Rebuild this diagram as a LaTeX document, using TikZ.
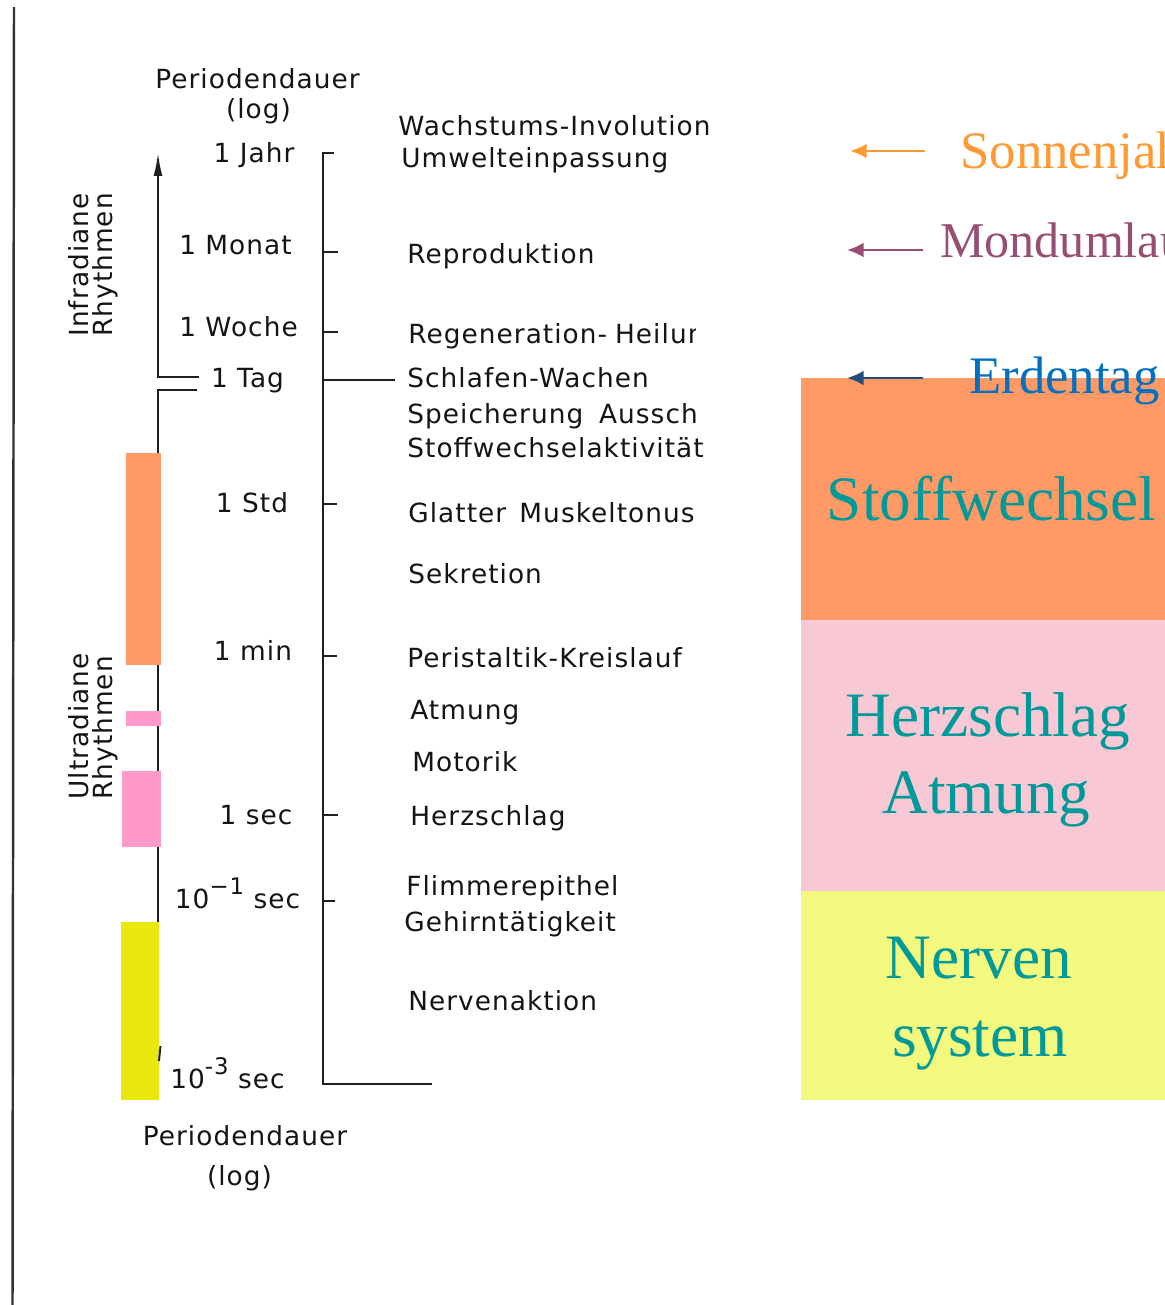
\documentclass[tikz,border=0pt]{standalone}
\usepackage{fontspec}
\setmainfont{DejaVu Sans}
\newfontfamily\lab[LetterSpace=4]{DejaVu Sans}
\newfontfamily\ser{Liberation Serif}
\usetikzlibrary{arrows.meta}
\definecolor{barorange}{RGB}{255,153,102}
\definecolor{barpink}{RGB}{255,153,204}
\definecolor{baryellow}{RGB}{232,232,14}
\definecolor{boxpink}{RGB}{248,200,212}
\definecolor{boxyellow}{RGB}{243,248,126}
\definecolor{tealtext}{RGB}{0,153,153}
\definecolor{sonnen}{RGB}{255,153,51}
\definecolor{mond}{RGB}{152,77,115}
\definecolor{erdtext}{RGB}{0,112,192}
\definecolor{erdarrow}{RGB}{31,78,121}
\newcommand{\supx}[1]{\raisebox{0.5em}{\fontsize{13}{13}\selectfont #1}}
\begin{document}
\begin{tikzpicture}[x=0.02cm,y=-0.02cm,
  lbl/.style={font=\lab\fontsize{15}{17}\selectfont, inner sep=0, text=black!92},
  rl/.style={lbl, anchor=base west},
  al/.style={lbl, anchor=base},
  vl/.style={lbl, anchor=base west, rotate=90},
  big/.style={font=\ser\fontsize{36}{40}\selectfont, inner sep=0, text=tealtext, anchor=base},
  ink/.style={line width=1.1pt, draw=black!88},
  colarrow/.style={line width=1.6pt, -{Latex[length=9.5pt,width=8.5pt]}}]
\clip (0,0) rectangle (1165,1305);
\fill[white] (0,0) rectangle (1165,1305);
% left frame line
\coordinate (ftop) at (14,7);
\coordinate (fbot) at (12.5,1310);
\draw[line width=1.4pt, draw=black!80] (ftop) -- (fbot);
% main axis
\coordinate (atip) at (158,153);
\coordinate (atag) at (158,377);
\coordinate (atagr) at (199,377);
\coordinate (btagr) at (197,390);
\coordinate (btag) at (158,390);
\coordinate (bend) at (158,1060);
\draw[ink, -{Latex[length=13pt,width=5pt]}] (atagr) -- (atag) -- (atip);
\draw[ink] (btagr) -- (btag) -- (bend);
% coloured bars
\fill[barorange] (126,453) rectangle (161,665);
\fill[barpink] (126,711) rectangle (161,726);
\fill[barpink] (122,771) rectangle (161,847);
\fill[baryellow] (121,922) rectangle (158.5,1100);
\draw[ink] (160.5,1046) -- (159,1061);
% bracket
\coordinate (ktop) at (323,153);
\coordinate (kbot) at (323,1084);
\draw[ink] (334,153) -- (ktop) -- (kbot) -- (432,1084);
\foreach \yy/\ee in {252/338,332/338,380/395,504/337,656/337,815/338,901/335}
  \draw[ink] (323,\yy) -- (\ee,\yy);
% axis labels
\node[al] (pdtop) at (257.5,88) {Periodendauer};
\node[al] (logtop) at (258.5,118) {(log)};
\node[al] (jahr) at (254,162) {1 Jahr};
\node[al] (monat) at (235.5,254) {1 Monat};
\node[al] (woche) at (238.5,336) {1 Woche};
\node[al] (tag) at (247.5,387) {1 Tag};
\node[al] (std) at (252,512) {1 Std};
\node[al] (min) at (253,660) {1 min};
\node[al] (sec) at (256,824) {1 sec};
\node[al] (dsec) at (237.5,908) {10\supx{−1} sec};
\node[al] (msec) at (227.5,1088) {10\supx{-3} sec};
\node[al] (pdbot) at (245,1145) {Periodendauer};
\node[al] (logbot) at (239.5,1185) {(log)};
% rotated labels
\node[vl] (infra) at (88,337) {Infradiane};
\node[vl] (infrarh) at (112,337) {Rhythmen};
\node[vl] (ultra) at (88,800) {Ultradiane};
\node[vl] (ultrarh) at (112,800) {Rhythmen};
% right-hand functions
\node[rl] (wachs) at (398,135) {Wachstums-Involution};
\node[rl] (umwelt) at (401,167) {Umwelteinpassung};
\node[rl] (repro) at (407,263) {Reproduktion};
\begin{scope}
\clip (380,300) rectangle (695,440);
\node[rl] (regen) at (408,343) {Regeneration-\hspace{0.3em}Heilung};
\node[rl] (speich) at (407,423) {Speicherung\hspace{0.6em}Ausscheidung};
\end{scope}
\node[rl] (schlaf) at (407,387) {Schlafen-Wachen};
\node[rl] (stoffakt) at (407,457) {Stoffwechselaktivität};
\node[rl] (glatt) at (408,522.5) {Glatter\hspace{0.5em}Muskeltonus};
\node[rl] (sekr) at (408,583.5) {Sekretion};
\node[rl] (peri) at (407,667) {Peristaltik-Kreislauf};
\node[rl] (atm) at (410,719) {Atmung};
\node[rl] (moto) at (412,771.5) {Motorik};
\node[rl] (herz) at (410,825) {Herzschlag};
\node[rl] (flimm) at (406,895) {Flimmerepithel};
\node[rl] (gehirn) at (404,931) {Gehirntätigkeit};
\node[rl] (nerv) at (408,1010.5) {Nervenaktion};
% coloured boxes
\fill[barorange] (801,378) rectangle (1170,620);
\fill[boxpink] (801,620) rectangle (1170,891);
\fill[boxyellow] (801,891) rectangle (1170,1100);
\node[big] (bstoff) at (991.5,520) {Stoffwechsel};
\node[big] (bherz) at (988,736) {Herzschlag};
\node[big] (batm) at (986,813) {Atmung};
\node[big] (bnerv) at (979,978) {Nerven};
\node[big] (bsys) at (980,1056) {system};
% cosmic cycles
\node[font=\ser\fontsize{30}{34}\selectfont, text=sonnen, inner sep=0, anchor=base west] (sonne) at (960,168) {Sonnenjahr};
\node[font=\ser\fontsize{28.5}{32}\selectfont, text=mond, inner sep=0, anchor=base west] (mondu) at (940,257) {Mondumlauf};
\node[font=\ser\fontsize{30}{34}\selectfont, text=erdtext, inner sep=0, anchor=base west] (erde) at (969,393) {Erdentag};
\coordinate (s1) at (925,151); \coordinate (s2) at (850,151);
\coordinate (m1) at (923,250); \coordinate (m2) at (847,250);
\coordinate (e1) at (923,378); \coordinate (e2) at (847,378);
\draw[colarrow, draw=sonnen, fill=sonnen] (s1) -- (s2);
\draw[colarrow, draw=mond, fill=mond] (m1) -- (m2);
\draw[colarrow, draw=erdarrow, fill=erdarrow] (e1) -- (e2);
\end{tikzpicture}
\end{document}
